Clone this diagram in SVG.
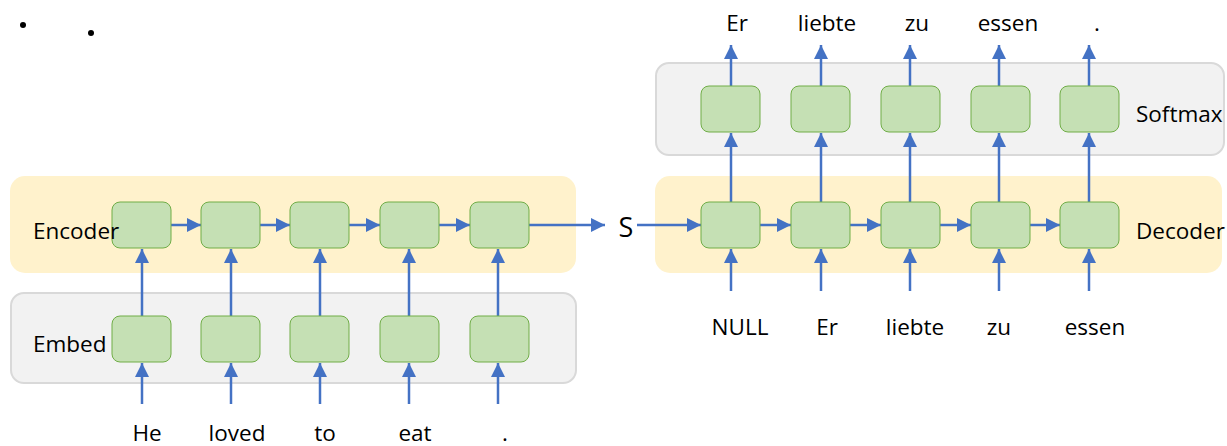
<svg xmlns="http://www.w3.org/2000/svg" width="1227" height="446" viewBox="0 0 1227 446">
  <style>
    .band-enc { fill: #fff2cc; stroke: none; }
    .band-grey { fill: #f2f2f2; stroke: #d9d9d9; stroke-width: 2; }
    .cell { fill: #c5e0b4; stroke: #70ad47; stroke-width: 1; }
    .lbl { font-family: "Open Sans", "Liberation Sans", Arial, sans-serif; font-size: 22.5px; fill: #000; }
    .word { font-family: "Open Sans", "Liberation Sans", Arial, sans-serif; font-size: 22.5px; fill: #000; text-anchor: middle; }
    .arr { stroke: #4472c4; stroke-width: 2.5; fill: none; marker-end: url(#head); }
  </style>
  <defs>
    <marker id="head" markerUnits="userSpaceOnUse" markerWidth="16" markerHeight="16" refX="14" refY="7" orient="auto">
      <path d="M0,0 L14,7 L0,14 z" fill="#4472c4"/>
    </marker>
  </defs>

  <rect width="1227" height="446" fill="#ffffff"/>

  <!-- stray bullet dots -->
  <circle cx="23" cy="25" r="3" fill="#000"/>
  <circle cx="91" cy="33" r="3" fill="#000"/>

  <!-- layer bands -->
  <g id="encoder-band">
    <rect class="band-enc" x="10" y="176" width="566" height="97" rx="15"/>
  </g>
  <g id="embed-band">
    <rect class="band-grey" x="11" y="293" width="565" height="90" rx="13"/>
  </g>
  <g id="decoder-band">
    <rect class="band-enc" x="655" y="176" width="567" height="97" rx="15"/>
  </g>
  <g id="softmax-band">
    <rect class="band-grey" x="656" y="63" width="568" height="92" rx="13"/>
  </g>

  <!-- connectors -->
  <g id="connectors">
    <!-- encoder inputs -->
    <line class="arr" x1="142" y1="404" x2="142" y2="363"/>
    <line class="arr" x1="231" y1="404" x2="231" y2="363"/>
    <line class="arr" x1="320" y1="404" x2="320" y2="363"/>
    <line class="arr" x1="409" y1="404" x2="409" y2="363"/>
    <line class="arr" x1="498" y1="404" x2="498" y2="363"/>
    <!-- embed to encoder -->
    <line class="arr" x1="142" y1="316" x2="142" y2="249"/>
    <line class="arr" x1="231" y1="316" x2="231" y2="249"/>
    <line class="arr" x1="320" y1="316" x2="320" y2="249"/>
    <line class="arr" x1="409" y1="316" x2="409" y2="249"/>
    <line class="arr" x1="498" y1="316" x2="498" y2="249"/>
    <!-- encoder recurrence -->
    <line class="arr" x1="171" y1="225" x2="201" y2="225"/>
    <line class="arr" x1="260" y1="225" x2="290" y2="225"/>
    <line class="arr" x1="349" y1="225" x2="380" y2="225"/>
    <line class="arr" x1="439" y1="225" x2="470" y2="225"/>
    <line class="arr" x1="529" y1="225" x2="605" y2="225"/>
    <!-- state into decoder -->
    <line class="arr" x1="637" y1="225" x2="701" y2="225"/>
    <!-- decoder recurrence -->
    <line class="arr" x1="760" y1="225" x2="791" y2="225"/>
    <line class="arr" x1="850" y1="225" x2="881" y2="225"/>
    <line class="arr" x1="940" y1="225" x2="971" y2="225"/>
    <line class="arr" x1="1030" y1="225" x2="1060" y2="225"/>
    <!-- decoder inputs -->
    <line class="arr" x1="731" y1="291" x2="731" y2="249"/>
    <line class="arr" x1="821" y1="291" x2="821" y2="249"/>
    <line class="arr" x1="910" y1="291" x2="910" y2="249"/>
    <line class="arr" x1="999" y1="291" x2="999" y2="249"/>
    <line class="arr" x1="1089" y1="291" x2="1089" y2="249"/>
    <!-- decoder to softmax -->
    <line class="arr" x1="731" y1="202" x2="731" y2="133"/>
    <line class="arr" x1="821" y1="202" x2="821" y2="133"/>
    <line class="arr" x1="910" y1="202" x2="910" y2="133"/>
    <line class="arr" x1="999" y1="202" x2="999" y2="133"/>
    <line class="arr" x1="1089" y1="202" x2="1089" y2="133"/>
    <!-- softmax outputs -->
    <line class="arr" x1="731" y1="86" x2="731" y2="45"/>
    <line class="arr" x1="821" y1="86" x2="821" y2="45"/>
    <line class="arr" x1="910" y1="86" x2="910" y2="45"/>
    <line class="arr" x1="999" y1="86" x2="999" y2="45"/>
    <line class="arr" x1="1089" y1="86" x2="1089" y2="45"/>
  </g>

  <!-- encoder cells -->
  <g id="enc1"><rect class="cell" x="112" y="202" width="59" height="46" rx="8"/></g>
  <g id="enc2"><rect class="cell" x="201" y="202" width="59" height="46" rx="8"/></g>
  <g id="enc3"><rect class="cell" x="290" y="202" width="59" height="46" rx="8"/></g>
  <g id="enc4"><rect class="cell" x="380" y="202" width="59" height="46" rx="8"/></g>
  <g id="enc5"><rect class="cell" x="470" y="202" width="59" height="46" rx="8"/></g>

  <!-- embedding cells -->
  <g id="emb1"><rect class="cell" x="112" y="316" width="59" height="46" rx="8"/></g>
  <g id="emb2"><rect class="cell" x="201" y="316" width="59" height="46" rx="8"/></g>
  <g id="emb3"><rect class="cell" x="290" y="316" width="59" height="46" rx="8"/></g>
  <g id="emb4"><rect class="cell" x="380" y="316" width="59" height="46" rx="8"/></g>
  <g id="emb5"><rect class="cell" x="470" y="316" width="59" height="46" rx="8"/></g>

  <!-- decoder cells -->
  <g id="dec1"><rect class="cell" x="701" y="202" width="59" height="46" rx="8"/></g>
  <g id="dec2"><rect class="cell" x="791" y="202" width="59" height="46" rx="8"/></g>
  <g id="dec3"><rect class="cell" x="881" y="202" width="59" height="46" rx="8"/></g>
  <g id="dec4"><rect class="cell" x="971" y="202" width="59" height="46" rx="8"/></g>
  <g id="dec5"><rect class="cell" x="1060" y="202" width="59" height="46" rx="8"/></g>

  <!-- softmax cells -->
  <g id="sm1"><rect class="cell" x="701" y="86" width="59" height="46" rx="8"/></g>
  <g id="sm2"><rect class="cell" x="791" y="86" width="59" height="46" rx="8"/></g>
  <g id="sm3"><rect class="cell" x="881" y="86" width="59" height="46" rx="8"/></g>
  <g id="sm4"><rect class="cell" x="971" y="86" width="59" height="46" rx="8"/></g>
  <g id="sm5"><rect class="cell" x="1060" y="86" width="59" height="46" rx="8"/></g>

  <!-- layer labels, drawn on top of the cells -->
  <g id="layer-labels">
    <text class="lbl" x="33" y="239">Encoder</text>
    <text class="lbl" x="33" y="352">Embed</text>
    <text class="lbl" x="1136" y="239">Decoder</text>
    <text class="lbl" x="1136" y="122">Softmax</text>
  </g>

  <!-- context vector -->
  <g id="state">
    <text class="word" x="626" y="237" style="font-size:27px">S</text>
  </g>

  <!-- source words -->
  <g id="source-words">
    <text class="word" x="147" y="441">He</text>
    <text class="word" x="237" y="441">loved</text>
    <text class="word" x="325" y="441">to</text>
    <text class="word" x="415" y="441">eat</text>
    <text class="word" x="505" y="441">.</text>
  </g>

  <!-- decoder input words -->
  <g id="decoder-inputs">
    <text class="word" x="740" y="335">NULL</text>
    <text class="word" x="827" y="335">Er</text>
    <text class="word" x="915" y="335">liebte</text>
    <text class="word" x="999" y="335">zu</text>
    <text class="word" x="1095" y="335">essen</text>
  </g>

  <!-- output words -->
  <g id="output-words">
    <text class="word" x="737" y="31">Er</text>
    <text class="word" x="827" y="31">liebte</text>
    <text class="word" x="917" y="31">zu</text>
    <text class="word" x="1008" y="31">essen</text>
    <text class="word" x="1097" y="31">.</text>
  </g>
</svg>
